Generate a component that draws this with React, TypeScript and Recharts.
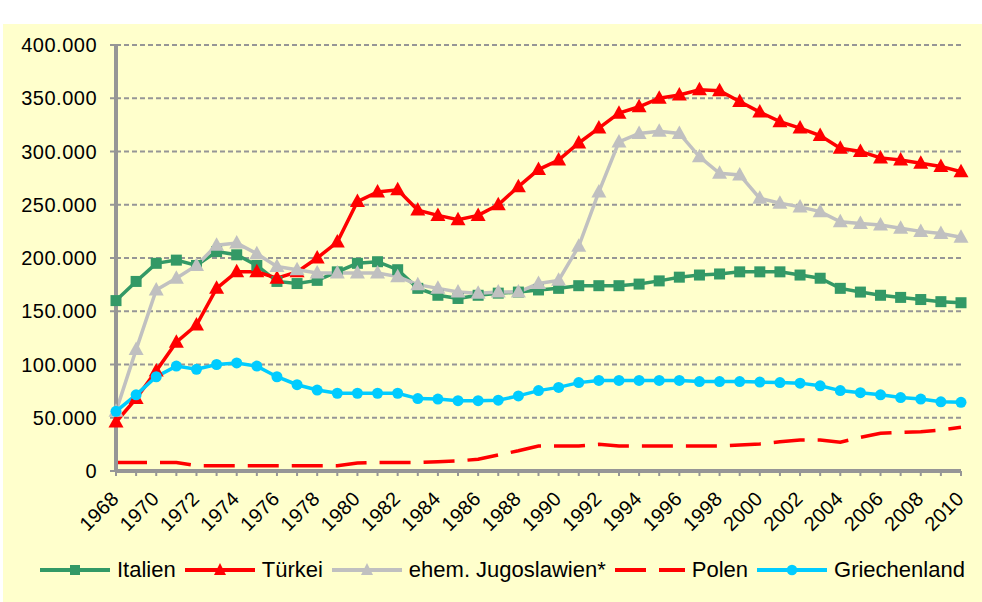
import React from 'react';
import { LineChart, Line, XAxis, YAxis, CartesianGrid, Legend } from 'recharts';

const years = [
  1968, 1969, 1970, 1971, 1972, 1973, 1974, 1975, 1976, 1977, 1978, 1979, 1980, 1981, 1982,
  1983, 1984, 1985, 1986, 1987, 1988, 1989, 1990, 1991, 1992, 1993, 1994, 1995, 1996, 1997,
  1998, 1999, 2000, 2001, 2002, 2003, 2004, 2005, 2006, 2007, 2008, 2009, 2010,
];

// values in thousands
const italien = [
  160, 178, 195, 198, 193, 206, 203, 193, 178, 176, 179, 187, 195, 196.5, 189, 171.5,
  165, 162, 165, 167, 168, 170, 171.5, 174, 174, 174, 175.5, 178.5, 182, 184, 185, 187, 187, 187,
  184, 181, 171.5, 168, 165, 163, 161, 159, 158,
];
const tuerkei = [
  46, 68, 94, 121, 137, 171.5, 187, 187, 181, 187, 200, 215, 253, 262, 264, 245,
  240, 236, 240, 250, 267, 283, 292, 308, 322, 336, 342, 350, 353, 358, 357, 347, 337, 328,
  322, 315, 303, 300, 294, 292, 289, 286, 281,
];
const jugoslawien = [
  56, 114, 170, 181, 193, 212, 214, 204, 192, 189, 186, 186, 186, 186, 182.5, 175,
  171.5, 168, 167, 168, 168, 176, 179, 211, 262, 309, 317, 319, 317, 295, 279.5, 278, 256, 251.5,
  248, 243.5, 234, 232.5, 231, 228, 225, 223, 219.5,
];
const polen = [
  8, 8, 8, 8, 5, 5, 5, 5, 5, 5, 5, 5, 7.5, 8, 8, 8,
  8.8, 9.5, 11, 15, 19, 23.5, 23.5, 23.5, 25, 23.5, 23.5, 23.5, 23.5, 23.5, 23.5, 24.4, 25.4, 27.5,
  29, 29, 27, 31.6, 35.4, 36.3, 36.9, 38.5, 41,
];
const griechenland = [
  56, 71.5, 88.5, 98.5, 95.5, 100, 101.5, 98.5, 88.5, 81, 76, 73, 73, 73, 73, 68,
  67.5, 66, 66, 66.5, 70.5, 75.5, 78.5, 83, 85, 85, 85, 85, 85, 84, 84, 84, 83.5, 83,
  82.5, 80, 75.5, 73.5, 71.5, 69, 67.5, 65, 64.5,
];

const yTicks = [0, 50000, 100000, 150000, 200000, 250000, 300000, 350000, 400000];

const data = years.map((year, i) => ({
  year,
  italien: italien[i] * 1000,
  tuerkei: tuerkei[i] * 1000,
  jugoslawien: jugoslawien[i] * 1000,
  polen: polen[i] * 1000,
  griechenland: griechenland[i] * 1000,
}));

const FONT = '"Liberation Sans", Arial, sans-serif';
const GREEN = '#339966';
const RED = '#FF0000';
const GREY = '#C0C0C0';
const CYAN = '#00CCFF';
const AXIS = '#969696';

const squareDot = (color: string) => (props: any) => {
  const { cx, cy, index } = props;
  return <rect key={`sq-${index}`} x={cx - 5.5} y={cy - 5.5} width={11} height={11} fill={color} />;
};

const triangleDot = (color: string) => (props: any) => {
  const { cx, cy, index } = props;
  return (
    <polygon
      key={`tr-${index}`}
      points={`${cx},${cy - 8} ${cx - 7.5},${cy + 5.5} ${cx + 7.5},${cy + 5.5}`}
      fill={color}
    />
  );
};

const circleDot = (color: string) => (props: any) => {
  const { cx, cy, index } = props;
  return <circle key={`ci-${index}`} cx={cx} cy={cy} r={5.5} fill={color} />;
};

const XTick = (props: any) => {
  const { x, y, payload } = props;
  if (payload.value % 2 !== 0) return null;
  const tx = x + 4;
  const ty = y + 22;
  return (
    <text
      x={tx}
      y={ty}
      transform={`rotate(-45 ${tx} ${ty})`}
      textAnchor="end"
      fontSize={20}
      letterSpacing={0.3}
      fontFamily={FONT}
      fill="#000"
    >
      {payload.value}
    </text>
  );
};

const legendItems = [
  { name: 'Italien', color: GREEN, marker: 'square' },
  { name: 'Türkei', color: RED, marker: 'triangle' },
  { name: 'ehem. Jugoslawien*', color: GREY, marker: 'triangle' },
  { name: 'Polen', color: RED, marker: 'dash' },
  { name: 'Griechenland', color: CYAN, marker: 'circle' },
];

const LegendContent = () => (
  <div style={{ display: 'flex', alignItems: 'center', paddingLeft: 37, fontFamily: FONT, fontSize: 22, color: '#000' }}>
    {legendItems.map((it) => (
      <div key={it.name} style={{ display: 'flex', alignItems: 'center', marginRight: 9 }}>
        <svg width={70} height={20}>
          <line
            x1={0}
            y1={10}
            x2={70}
            y2={10}
            stroke={it.color}
            strokeWidth={4}
            strokeDasharray={it.marker === 'dash' ? '31 13' : undefined}
          />
          {it.marker === 'square' && <rect x={30} y={5} width={10} height={10} fill={it.color} />}
          {it.marker === 'triangle' && <polygon points="35,3 29,15 41,15" fill={it.color} />}
          {it.marker === 'circle' && <circle cx={35} cy={10} r={5.3} fill={it.color} />}
        </svg>
        <span style={{ marginLeft: 7 }}>{it.name}</span>
      </div>
    ))}
  </div>
);

export default function App() {
  return (
    <div style={{ position: 'absolute', left: 3, top: 24, width: 979, height: 578, background: '#FFFFCC' }}>
      <LineChart width={979} height={578} data={data} margin={{ top: 21, right: 21, left: 10, bottom: 5 }}>
        <CartesianGrid horizontal vertical={false} stroke={AXIS} strokeWidth={2} strokeDasharray="5 3" />
        <XAxis
          dataKey="year"
          type="number"
          domain={[1968, 2010]}
          ticks={years}
          interval={0}
          height={86}
          tickSize={5}
          axisLine={{ stroke: AXIS, strokeWidth: 4 }}
          tickLine={{ stroke: AXIS, strokeWidth: 2 }}
          tick={<XTick />}
        />
        <YAxis
          domain={[0, 400000]}
          ticks={yTicks}
          interval={0}
          width={103}
          tickSize={6}
          tickMargin={13}
          axisLine={{ stroke: AXIS, strokeWidth: 4 }}
          tickLine={{ stroke: AXIS, strokeWidth: 2 }}
          tick={{ fontSize: 20, fill: '#000', fontFamily: FONT, letterSpacing: 0.5 }}
          tickFormatter={(v: number) => v.toLocaleString('de-DE')}
        />
        <Legend verticalAlign="bottom" wrapperStyle={{ left: 0, width: 979, height: 40 }} content={<LegendContent />} />
        <Line
          dataKey="italien"
          name="Italien"
          stroke={GREEN}
          strokeWidth={3.5}
          dot={squareDot(GREEN)}
          activeDot={false}
          isAnimationActive={false}
        />
        <Line
          dataKey="tuerkei"
          name="Türkei"
          stroke={RED}
          strokeWidth={3.5}
          dot={triangleDot(RED)}
          activeDot={false}
          isAnimationActive={false}
        />
        <Line
          dataKey="jugoslawien"
          name="ehem. Jugoslawien*"
          stroke={GREY}
          strokeWidth={3.5}
          dot={triangleDot(GREY)}
          activeDot={false}
          isAnimationActive={false}
        />
        <Line
          dataKey="polen"
          name="Polen"
          stroke={RED}
          strokeWidth={3.5}
          strokeDasharray="31 13"
          dot={false}
          activeDot={false}
          isAnimationActive={false}
        />
        <Line
          dataKey="griechenland"
          name="Griechenland"
          stroke={CYAN}
          strokeWidth={3.5}
          dot={circleDot(CYAN)}
          activeDot={false}
          isAnimationActive={false}
        />
      </LineChart>
    </div>
  );
}
